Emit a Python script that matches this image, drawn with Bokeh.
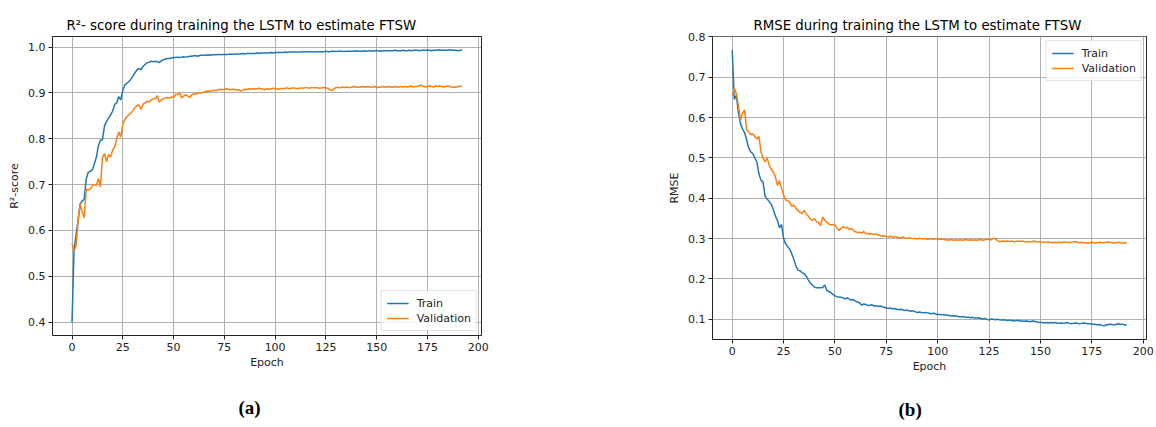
from bokeh.plotting import figure
from bokeh.models import Range1d, FixedTicker, PrintfTickFormatter, Title, ColumnDataSource
from bokeh.layouts import row
from bokeh.embed import file_html
from bokeh.resources import INLINE

epochs = list(range(193))
x_ticks = [0, 25, 50, 75, 100, 125, 150, 175, 200]
r2_ticks = [0.4, 0.5, 0.6, 0.7, 0.8, 0.9, 1.0]
rmse_ticks = [0.1, 0.2, 0.3, 0.4, 0.5, 0.6, 0.7, 0.8]

r2_train = [
    0.400, 0.557, 0.590, 0.622, 0.658, 0.664, 0.668, 0.712, 0.727, 0.729,
    0.732, 0.745, 0.760, 0.785, 0.797, 0.798, 0.828, 0.838, 0.845, 0.852,
    0.860, 0.875, 0.878, 0.892, 0.885, 0.905, 0.917, 0.921, 0.925, 0.930,
    0.936, 0.944, 0.950, 0.953, 0.951, 0.958, 0.962, 0.966, 0.967, 0.969,
    0.968, 0.969, 0.968, 0.966, 0.970, 0.972, 0.974, 0.975, 0.975, 0.976,
    0.977, 0.977, 0.978, 0.977, 0.978, 0.979, 0.978, 0.979, 0.980, 0.980,
    0.981, 0.981, 0.980, 0.982, 0.982,
    0.982, 0.982, 0.983, 0.982, 0.983, 0.983, 0.983, 0.984, 0.983, 0.984,
    0.984, 0.984, 0.984, 0.985, 0.984, 0.985,
    0.985, 0.985, 0.985, 0.986, 0.985, 0.986, 0.986, 0.986, 0.986, 0.986,
    0.987, 0.986, 0.987, 0.987, 0.987, 0.987, 0.987, 0.988, 0.987, 0.988,
    0.988, 0.988, 0.988, 0.988, 0.989, 0.988, 0.989, 0.989, 0.989, 0.989,
    0.989, 0.989, 0.990, 0.989, 0.990, 0.990, 0.990, 0.990, 0.989, 0.990,
    0.990, 0.990, 0.990, 0.990, 0.991, 0.990, 0.990, 0.991, 0.991, 0.990,
    0.991, 0.991, 0.991, 0.990, 0.991, 0.991, 0.991, 0.991, 0.991, 0.992,
    0.991, 0.991, 0.991, 0.992, 0.991, 0.992, 0.992, 0.991, 0.992, 0.992,
    0.992, 0.991, 0.992, 0.992, 0.992, 0.992, 0.992, 0.992, 0.993, 0.992,
    0.992, 0.992, 0.993, 0.992, 0.992, 0.993, 0.992, 0.993, 0.993, 0.993,
    0.992, 0.993, 0.993, 0.993, 0.993, 0.993, 0.992, 0.993, 0.993, 0.993,
    0.994, 0.993, 0.993, 0.993, 0.993, 0.994, 0.993, 0.993, 0.993, 0.992,
    0.993, 0.993,
]

r2_val = [
    0.572, 0.557, 0.566, 0.620, 0.658, 0.640, 0.628, 0.690, 0.688, 0.690,
    0.698, 0.700, 0.698, 0.713, 0.695, 0.760, 0.768, 0.750, 0.766, 0.760,
    0.775, 0.782, 0.800, 0.815, 0.804, 0.832, 0.842, 0.848, 0.852, 0.856,
    0.862, 0.868, 0.872, 0.874, 0.864, 0.876, 0.878, 0.882, 0.880, 0.885,
    0.887, 0.888, 0.894, 0.880, 0.886, 0.887, 0.889, 0.890, 0.889, 0.891,
    0.890, 0.897, 0.896, 0.900, 0.889, 0.893, 0.896, 0.893, 0.890, 0.896,
    0.898, 0.897, 0.900, 0.901, 0.900,
    0.902, 0.903, 0.904, 0.903, 0.905, 0.906, 0.905, 0.907, 0.908, 0.907,
    0.908, 0.909, 0.908, 0.907, 0.908, 0.908,
    0.906, 0.907, 0.904, 0.906, 0.908, 0.907, 0.909, 0.908, 0.910, 0.908,
    0.909, 0.910, 0.909, 0.908, 0.907, 0.909, 0.908, 0.909, 0.910, 0.909,
    0.909, 0.908, 0.910, 0.909, 0.910, 0.911, 0.909, 0.910, 0.911, 0.910,
    0.909, 0.910, 0.911, 0.910, 0.912, 0.911, 0.910, 0.912, 0.911, 0.912,
    0.911, 0.910, 0.911, 0.912, 0.911, 0.910, 0.907, 0.905, 0.909, 0.912,
    0.912, 0.911, 0.913, 0.912, 0.913, 0.912, 0.912, 0.913, 0.914, 0.913,
    0.912, 0.913, 0.914, 0.913, 0.913, 0.914, 0.912, 0.913, 0.914, 0.913,
    0.912, 0.913, 0.914, 0.913, 0.913, 0.914, 0.913, 0.912, 0.914, 0.913,
    0.913, 0.914, 0.913, 0.914, 0.913, 0.914, 0.915, 0.913, 0.914, 0.914,
    0.916, 0.917, 0.914, 0.913, 0.914, 0.915, 0.914, 0.913, 0.915, 0.914,
    0.915, 0.914, 0.913, 0.914, 0.915, 0.914, 0.913, 0.912, 0.913, 0.914,
    0.914, 0.915,
]

rmse_train = [
    0.767, 0.645, 0.655, 0.612, 0.585, 0.572, 0.563, 0.545, 0.525, 0.515,
    0.511, 0.500, 0.490, 0.460, 0.445, 0.440, 0.405, 0.398, 0.392, 0.385,
    0.372, 0.356, 0.345, 0.327, 0.335, 0.300, 0.287, 0.280, 0.274, 0.262,
    0.248, 0.232, 0.222, 0.220, 0.216, 0.213, 0.207, 0.198, 0.190, 0.185,
    0.180, 0.178, 0.178, 0.178, 0.179, 0.185, 0.172, 0.169, 0.166, 0.162,
    0.158, 0.156, 0.155, 0.155, 0.153, 0.151, 0.153, 0.150, 0.148, 0.149,
    0.145, 0.143, 0.141, 0.135, 0.138,
    0.137, 0.134, 0.135, 0.136, 0.133, 0.134, 0.132, 0.133, 0.131, 0.130,
    0.128, 0.127, 0.128, 0.126, 0.127, 0.125,
    0.124, 0.125, 0.123, 0.122, 0.123, 0.121, 0.120, 0.121, 0.119, 0.117,
    0.118, 0.117, 0.116, 0.117, 0.116, 0.115, 0.114, 0.115, 0.113, 0.112,
    0.112, 0.111, 0.112, 0.110, 0.110, 0.109, 0.108, 0.109, 0.108, 0.107,
    0.106, 0.107, 0.106, 0.105, 0.105, 0.104, 0.105, 0.103, 0.103, 0.104,
    0.102, 0.101, 0.102, 0.100, 0.098, 0.101, 0.100, 0.099, 0.100, 0.099,
    0.098, 0.099, 0.098, 0.097, 0.098, 0.097, 0.096, 0.097, 0.097, 0.096,
    0.096, 0.095, 0.096, 0.095, 0.094, 0.096, 0.095, 0.094, 0.093, 0.092,
    0.092, 0.091, 0.092, 0.091, 0.092, 0.091, 0.092, 0.091, 0.090, 0.091,
    0.090, 0.091, 0.092, 0.090, 0.089, 0.090, 0.091, 0.090, 0.089, 0.090,
    0.091, 0.090, 0.089, 0.089, 0.088, 0.088, 0.087, 0.086, 0.087, 0.085,
    0.084, 0.086, 0.087, 0.088, 0.087, 0.086, 0.088, 0.089, 0.087, 0.088,
    0.086, 0.086,
]

rmse_val = [
    0.655, 0.672, 0.660, 0.630, 0.594, 0.610, 0.619, 0.570, 0.565, 0.558,
    0.560, 0.553, 0.547, 0.553, 0.515, 0.500, 0.490, 0.500, 0.482, 0.472,
    0.465, 0.453, 0.432, 0.444, 0.424, 0.408, 0.396, 0.394, 0.390, 0.380,
    0.383, 0.375, 0.370, 0.365, 0.362, 0.370, 0.362, 0.356, 0.348, 0.345,
    0.350, 0.342, 0.340, 0.332, 0.354, 0.345, 0.341, 0.336, 0.334, 0.335,
    0.334, 0.326, 0.320, 0.326, 0.330, 0.326, 0.328, 0.323, 0.325, 0.320,
    0.317, 0.315, 0.316, 0.314, 0.318,
    0.312, 0.313, 0.311, 0.312, 0.310, 0.312, 0.309, 0.308, 0.306, 0.307,
    0.305, 0.304, 0.306, 0.303, 0.305, 0.304,
    0.303, 0.302, 0.304, 0.302, 0.300, 0.302, 0.301, 0.300, 0.301, 0.299,
    0.301, 0.300, 0.299, 0.300, 0.298, 0.299, 0.300, 0.298, 0.300, 0.299,
    0.298, 0.299, 0.298, 0.297, 0.296, 0.298, 0.297, 0.296, 0.297, 0.296,
    0.297, 0.296, 0.297, 0.298, 0.296, 0.297, 0.296, 0.297, 0.296, 0.297,
    0.298, 0.296, 0.297, 0.299, 0.298, 0.297, 0.301, 0.300, 0.295, 0.293,
    0.293, 0.294, 0.293, 0.294, 0.293, 0.294, 0.292, 0.293, 0.294, 0.293,
    0.294, 0.293, 0.292, 0.293, 0.292, 0.293, 0.294, 0.292, 0.293, 0.292,
    0.291, 0.292, 0.291, 0.292, 0.291, 0.290, 0.291, 0.290, 0.291, 0.290,
    0.291, 0.292, 0.291, 0.290, 0.291, 0.292, 0.293, 0.291, 0.290, 0.291,
    0.290, 0.289, 0.290, 0.289, 0.291, 0.290, 0.289, 0.290, 0.291, 0.290,
    0.290, 0.291, 0.292, 0.291, 0.290, 0.289, 0.290, 0.291, 0.290, 0.289,
    0.290, 0.289,
]

FONT = "DejaVu Sans"
BLUE = "#1f77b4"
ORANGE = "#ff7f0e"


def make_fig(train, val, yticks, yrange, title, ylabel, caption, legend_loc,
             mb_left, mb_right, mb_top, mb_bottom, fw, fh, title_offset,
             cap_offset, cap_standoff):
    p = figure(frame_width=fw, frame_height=fh,
               min_border_left=mb_left, min_border_right=mb_right,
               min_border_top=mb_top, min_border_bottom=mb_bottom,
               x_range=Range1d(-9.6, 201.6), y_range=Range1d(*yrange),
               output_backend="svg", toolbar_location=None)
    src = ColumnDataSource(dict(x=epochs, train=train, val=val))
    p.line("x", "train", source=src, line_color=BLUE, line_width=1.5, legend_label="Train")
    p.line("x", "val", source=src, line_color=ORANGE, line_width=1.5, legend_label="Validation")

    p.title.text = title
    p.title.align = "left"
    p.title.offset = title_offset
    p.title.text_font = FONT
    p.title.text_font_size = "13.3px"
    p.title.text_font_style = "normal"
    p.title.text_color = "black"
    p.title.standoff = 8

    p.outline_line_color = "#222222"
    p.outline_line_width = 1
    p.outline_line_alpha = 1

    for ax in (p.xaxis[0], p.yaxis[0]):
        ax.axis_line_color = None
        ax.major_tick_line_color = "#222222"
        ax.major_tick_out = 4
        ax.major_tick_in = 0
        ax.minor_tick_line_color = None
        ax.major_label_text_font = FONT
        ax.major_label_text_font_size = "11px"
        ax.major_label_text_color = "#222222"
        ax.axis_label_text_font = FONT
        ax.axis_label_text_font_size = "11px"
        ax.axis_label_text_font_style = "normal"
        ax.axis_label_text_color = "#222222"
        ax.major_label_standoff = 3
        ax.axis_label_standoff = 4

    p.xaxis[0].axis_label_standoff = 2
    p.xaxis[0].ticker = FixedTicker(ticks=x_ticks)
    p.yaxis[0].ticker = FixedTicker(ticks=yticks)
    p.yaxis[0].formatter = PrintfTickFormatter(format="%.1f")
    p.xaxis[0].axis_label = "Epoch"
    p.yaxis[0].axis_label = ylabel

    p.xgrid[0].ticker = FixedTicker(ticks=x_ticks)
    p.ygrid[0].ticker = FixedTicker(ticks=yticks)
    for g in (p.xgrid[0], p.ygrid[0]):
        g.grid_line_color = "#b0b0b0"
        g.grid_line_width = 1
        g.grid_line_alpha = 1

    lg = p.legend[0]
    lg.location = legend_loc
    lg.margin = 4
    lg.padding = 5
    lg.spacing = 1
    lg.label_height = 14
    lg.glyph_height = 14
    lg.glyph_width = 22
    lg.label_standoff = 8
    lg.label_text_font = FONT
    lg.label_text_font_size = "11px"
    lg.label_text_color = "#222222"
    lg.border_line_color = "#cccccc"
    lg.border_line_width = 1
    lg.background_fill_color = "white"
    lg.background_fill_alpha = 0.85

    cap = Title(text=caption, align="left", offset=cap_offset,
                text_font="Liberation Serif", text_font_size="19px",
                text_font_style="bold", text_color="black", standoff=cap_standoff)
    p.add_layout(cap, "below")
    return p


p1 = make_fig(r2_train, r2_val, r2_ticks, (0.371, 1.023),
              "R\u00b2- score during training the LSTM to estimate FTSW",
              "R\u00b2-score", "(a)", "bottom_right",
              52, 100, 36, 91, 429, 299, 14, 186, 47)
p2 = make_fig(rmse_train, rmse_val, rmse_ticks, (0.050, 0.801),
              "RMSE during training the LSTM to estimate FTSW",
              "RMSE", "(b)", "top_right",
              131, 10, 34, 90, 434, 303, 41, 186, 43)

layout = row(p1, p2)
open("out.html", "w").write(file_html(layout, INLINE))
